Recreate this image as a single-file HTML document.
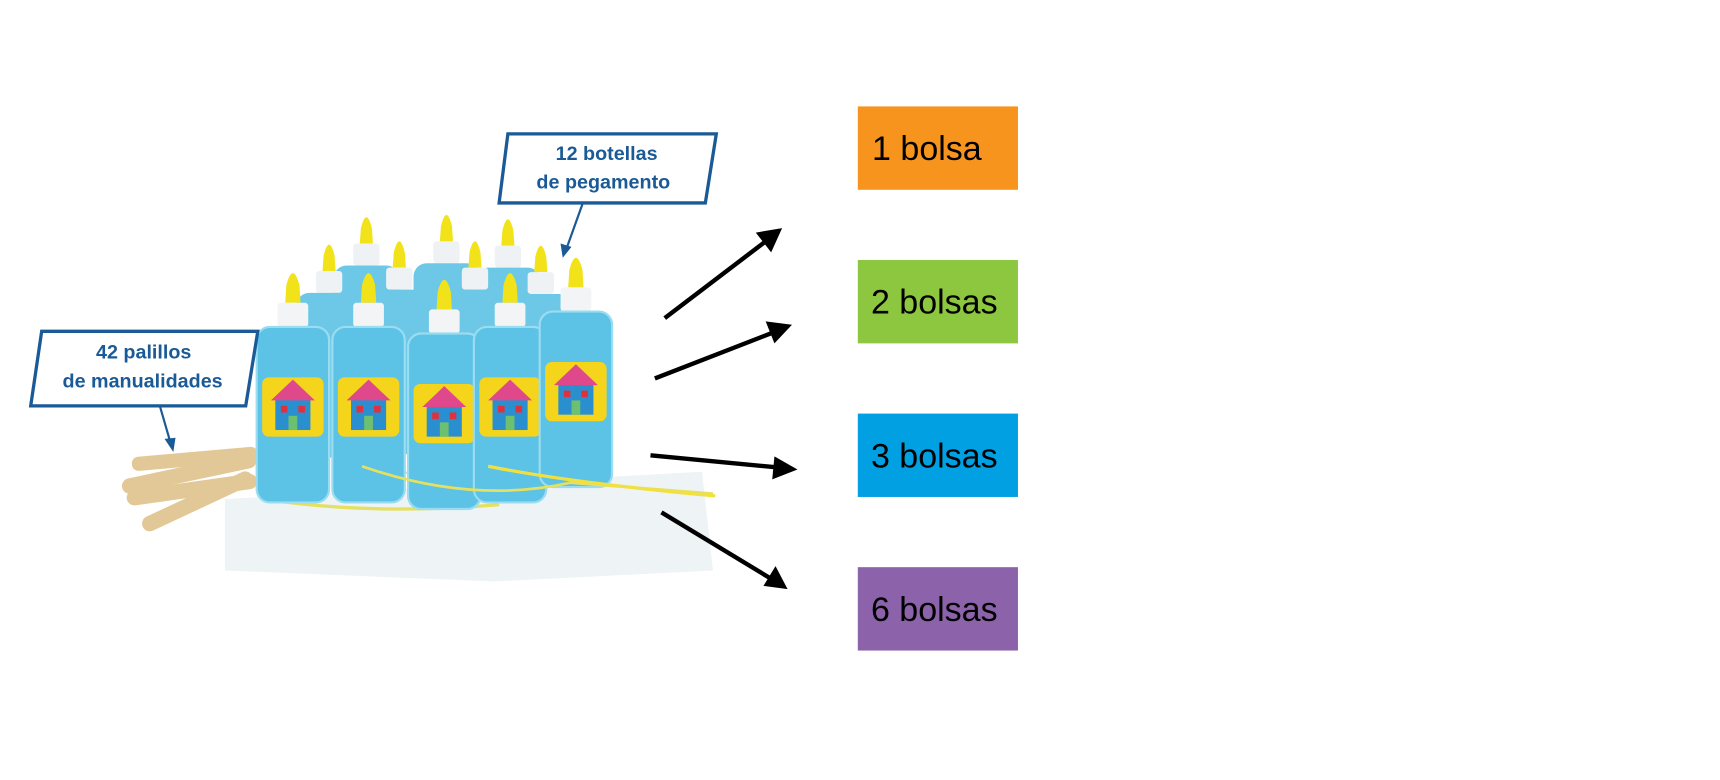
<!DOCTYPE html>
<html><head><meta charset="utf-8"><style>
html,body{margin:0;padding:0;background:#fff;}
svg{display:block;}
</style></head><body>
<svg width="1720" height="780" viewBox="0 0 1568 711" preserveAspectRatio="none" xmlns="http://www.w3.org/2000/svg">
<defs>
<marker id="ah" markerWidth="10" markerHeight="10" refX="6" refY="5" orient="auto" markerUnits="userSpaceOnUse" viewBox="0 0 10 10">
</marker>
<g id="bb">
 <path d="M-5,-62 Q0,-82 5,-62 L6,-48 L-6,-48 Z" fill="#f2e21a"/>
 <rect x="-12" y="-48" width="24" height="20" rx="3" fill="#eef2f5"/>
 <rect x="-30" y="-28" width="60" height="150" rx="12" fill="#6cc8e6"/>
</g>
<g id="fb">
 <path d="M-6,-62 Q0,-84 6,-62 L7,-46 L-7,-46 Z" fill="#f2e21a"/>
 <rect x="-14" y="-46" width="28" height="22" rx="3" fill="#f2f4f6"/>
 <rect x="-33" y="-24" width="66" height="160" rx="12" fill="#5cc2e6" stroke="#9adcf0" stroke-width="2"/>
 <rect x="-28" y="22" width="56" height="54" rx="6" fill="#f5d51c"/>
 <rect x="-16" y="42" width="32" height="28" fill="#2a8fcf"/>
 <polygon points="-20,43 0,24 20,43" fill="#e0488c"/>
 <rect x="-11" y="48" width="6" height="6" fill="#e0303c"/>
 <rect x="5" y="48" width="6" height="6" fill="#e0303c"/>
 <rect x="-4" y="57" width="8" height="13" fill="#6cc070"/>
</g>
</defs>
<!-- bags -->
<path d="M205,455 L460,440 L640,430 L650,520 L450,530 L205,520 Z" fill="#eef3f6"/>
<path d="M240,455 Q340,470 455,460" stroke="#e5e060" stroke-width="3" fill="none"/>
<path d="M330,420 Q420,450 520,430" stroke="#bde0c0" stroke-width="2" fill="none"/>
<!-- sticks -->
<g fill="#e2c896">
<rect x="110" y="425" width="125" height="14" rx="7" transform="rotate(-12 170 432)"/>
<rect x="115" y="440" width="120" height="14" rx="7" transform="rotate(-8 170 447)"/>
<rect x="125" y="450" width="110" height="14" rx="7" transform="rotate(-25 180 457)"/>
<rect x="120" y="412" width="115" height="13" rx="6" transform="rotate(-5 175 418)"/>
</g>
<!-- back bottles -->
<use href="#bb" x="334" y="270"/>
<use href="#bb" x="407" y="268"/>
<use href="#bb" x="463" y="272"/>
<use href="#bb" x="300" y="295"/>
<use href="#bb" x="364" y="292"/>
<use href="#bb" x="433" y="292"/>
<use href="#bb" x="493" y="296"/>
<!-- front bottles -->
<use href="#fb" x="267" y="322"/>
<use href="#fb" x="336" y="322"/>
<use href="#fb" x="405" y="328"/>
<use href="#fb" x="465" y="322"/>
<use href="#fb" x="525" y="308"/>
<path d="M330,425 Q430,460 520,440 L650,450" stroke="#e5e060" stroke-width="2.5" fill="none"/>
<path d="M445,425 Q520,440 652,452" stroke="#f0e040" stroke-width="3" fill="none"/>
<!-- callouts -->
<polygon points="463,122 653,122 643,185 455,185" fill="#fff" stroke="#1a5a96" stroke-width="3"/>
<text x="553" y="146" font-family="Liberation Sans, sans-serif" font-weight="bold" font-size="18" fill="#1a5a96" text-anchor="middle">12 botellas</text>
<text x="550" y="172" font-family="Liberation Sans, sans-serif" font-weight="bold" font-size="18" fill="#1a5a96" text-anchor="middle">de pegamento</text>
<line x1="531" y1="186" x2="517" y2="225" stroke="#1a5a96" stroke-width="2"/>
<polygon points="511,222 521,225 513,235" fill="#1a5a96"/>
<polygon points="38,302 235,302 224,370 28,370" fill="#fff" stroke="#1a5a96" stroke-width="3"/>
<text x="131" y="327" font-family="Liberation Sans, sans-serif" font-weight="bold" font-size="18" fill="#1a5a96" text-anchor="middle">42 palillos</text>
<text x="130" y="353" font-family="Liberation Sans, sans-serif" font-weight="bold" font-size="18" fill="#1a5a96" text-anchor="middle">de manualidades</text>
<line x1="146" y1="371" x2="155" y2="402" stroke="#1a5a96" stroke-width="2"/>
<polygon points="150,400 160,399 158,412" fill="#1a5a96"/>
<!-- arrows -->
<g stroke="#000" stroke-width="4">
<line x1="606" y1="290" x2="698" y2="220"/>
<line x1="597" y1="345" x2="705" y2="303"/>
<line x1="593" y1="415" x2="708" y2="426"/>
<line x1="603" y1="467" x2="702" y2="527"/>
</g>
<polygon points="713,208 689,212 703,230" fill="#000"/>
<polygon points="722,296 698,293 706,313" fill="#000"/>
<polygon points="727,428 706,416 704,437" fill="#000"/>
<polygon points="718,537 707,516 696,534" fill="#000"/>
<!-- boxes -->
<g font-family="Liberation Sans, sans-serif" font-size="31" fill="#000">
<rect x="782" y="97" width="146" height="76" fill="#f7941e"/>
<text x="795" y="146">1 bolsa</text>
<rect x="782" y="237" width="146" height="76" fill="#8dc63f"/>
<text x="794" y="286">2 bolsas</text>
<rect x="782" y="377" width="146" height="76" fill="#00a0e3"/>
<text x="794" y="426">3 bolsas</text>
<rect x="782" y="517" width="146" height="76" fill="#8c62aa"/>
<text x="794" y="566">6 bolsas</text>
</g>
</svg>
</body></html>
